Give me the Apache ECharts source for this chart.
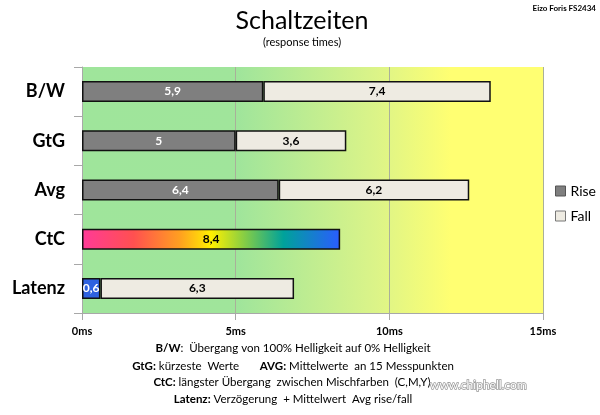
<!DOCTYPE html>
<html><head><meta charset="utf-8">
<script src="https://cdn.jsdelivr.net/npm/echarts@6/dist/echarts.min.js"></script>
<style>html,body{margin:0;padding:0;background:#fff}#c{width:600px;height:415px}</style>
</head><body><div id="c"></div>
<script>
const categories = ['B/W', 'GtG', 'Avg', 'CtC', 'Latenz'];
const riseValues = [5.9, 5, 6.4, 8.4, 0.6];
const fallValues = [7.4, 3.6, 6.2, null, 6.3];
const xTicks = [0, 5, 10, 15];
const FONT = 'Lato, "Open Sans", sans-serif';

const chart = echarts.init(document.getElementById('c'));
const riseData = riseValues.map((v, i) => {
  if (categories[i] === 'CtC') {
    return { value: v, itemStyle: { color: { type: 'linear', x: 0, y: 0, x2: 1, y2: 0, colorStops: [
      { offset: 0, color: '#ff3a98' }, { offset: 0.2, color: '#ff5050' }, { offset: 0.38, color: '#ffa020' },
      { offset: 0.5, color: '#fff000' }, { offset: 0.62, color: '#8ed040' }, { offset: 0.78, color: '#00a29a' },
      { offset: 1, color: '#2a5cff' }] } }, label: { color: '#000' } };
  }
  if (categories[i] === 'Latenz') {
    return { value: v, itemStyle: { color: '#2f62e0' } };
  }
  return v;
});

chart.setOption({
  animation: false,
  backgroundColor: '#fff',
  textStyle: { fontFamily: FONT },
  title: {
    text: 'Schaltzeiten', subtext: '(response times)',
    left: 297, textAlign: 'center', top: 3, itemGap: 4,
    textStyle: { fontSize: 25, fontWeight: 'normal', color: '#000', fontFamily: FONT },
    subtextStyle: { fontSize: 11, color: '#000', fontFamily: FONT }
  },
  legend: {
    orient: 'vertical', left: 550, top: 179, itemWidth: 10, itemHeight: 10, itemGap: 11,
    icon: 'rect',
    textStyle: { fontSize: 14, color: '#000', fontFamily: FONT },
    data: [
      { name: 'Rise', itemStyle: { color: '#7f7f7f', borderColor: '#555', borderWidth: 1 } },
      { name: 'Fall', itemStyle: { color: '#eeebe2', borderColor: '#777', borderWidth: 1 } }
    ]
  },
  grid: {
    left: 82, right: 57, top: 67, bottom: 102, show: true, borderWidth: 0,
    backgroundColor: { type: 'linear', x: 0, y: 0, x2: 1, y2: 0, colorStops: [
      { offset: 0, color: '#9fe59b' }, { offset: 0.34, color: '#a0e59b' },
      { offset: 0.64, color: '#dcf488' }, { offset: 0.8, color: '#ffff72' }, { offset: 1, color: '#ffff72' }] }
  },
  xAxis: {
    type: 'value', min: xTicks[0], max: xTicks[xTicks.length - 1], interval: 5,
    axisLine: { show: true, lineStyle: { color: '#a8a8a8' } },
    axisTick: { show: true, length: 7, lineStyle: { color: '#a8a8a8' } },
    axisLabel: { formatter: '{value}ms', fontWeight: 'bold', fontSize: 11, color: '#000', margin: 13, fontFamily: FONT },
    splitLine: { show: true, lineStyle: { color: '#a9b09a', width: 1 } }
  },
  yAxis: {
    type: 'category', inverse: true, data: categories,
    axisLine: { show: true, lineStyle: { color: '#a8a8a8' } },
    axisTick: { show: true, length: 8, lineStyle: { color: '#a8a8a8' } },
    axisLabel: { fontWeight: 'bold', fontSize: 18, color: '#000', margin: 17, fontFamily: FONT }
  },
  series: [
    { name: 'Rise', type: 'bar', stack: 't', barWidth: 21, data: riseData,
      itemStyle: { color: '#7f7f7f', borderColor: '#111', borderWidth: 1.5 },
      label: { show: true, position: 'inside', color: '#fff', fontWeight: 'bold', fontSize: 12, fontFamily: FONT,
        formatter: p => String(p.value).replace('.', ',') } },
    { name: 'Fall', type: 'bar', stack: 't', barWidth: 21, data: fallValues,
      itemStyle: { color: '#eeebe2', borderColor: '#111', borderWidth: 1.5 },
      label: { show: true, position: 'inside', color: '#000', fontWeight: 'bold', fontSize: 12, fontFamily: FONT,
        formatter: p => String(p.value).replace('.', ',') } }
  ],
  graphic: [
    { type: 'text', right: 4, top: 4, style: { text: 'Eizo Foris FS2434', fontSize: 8, fontWeight: 'bold', fill: '#000', fontFamily: FONT } },
    { type: 'text', x: 293, y: 348, style: { text: '{b|B/W}:  Übergang von 100% Helligkeit auf 0% Helligkeit', align: 'center', verticalAlign: 'middle', fontSize: 11.5, fill: '#000', fontFamily: FONT, rich: { b: { fontWeight: 'bold', fontSize: 11.5, fontFamily: FONT } } } },
    { type: 'text', x: 293, y: 366, style: { text: '{b|GtG:} kürzeste  Werte       {b|AVG:} Mittelwerte  an 15 Messpunkten', align: 'center', verticalAlign: 'middle', fontSize: 11.5, fill: '#000', fontFamily: FONT, rich: { b: { fontWeight: 'bold', fontSize: 11.5, fontFamily: FONT } } } },
    { type: 'text', x: 292, y: 382, style: { text: '{b|CtC:} längster Übergang  zwischen Mischfarben  (C,M,Y)', align: 'center', verticalAlign: 'middle', fontSize: 11.5, fill: '#000', fontFamily: FONT, rich: { b: { fontWeight: 'bold', fontSize: 11.5, fontFamily: FONT } } } },
    { type: 'text', x: 293, y: 399, style: { text: '{b|Latenz:} Verzögerung  + Mittelwert  Avg rise/fall', align: 'center', verticalAlign: 'middle', fontSize: 11.5, fill: '#000', fontFamily: FONT, rich: { b: { fontWeight: 'bold', fontSize: 11.5, fontFamily: FONT } } } },
    { type: 'text', x: 430, y: 385, style: { text: 'www.chiphell.com', fontSize: 12, fill: '#fff', stroke: '#999', lineWidth: 1.5, verticalAlign: 'middle', fontFamily: FONT }, z: 100 }
  ]
});
</script></body></html>
